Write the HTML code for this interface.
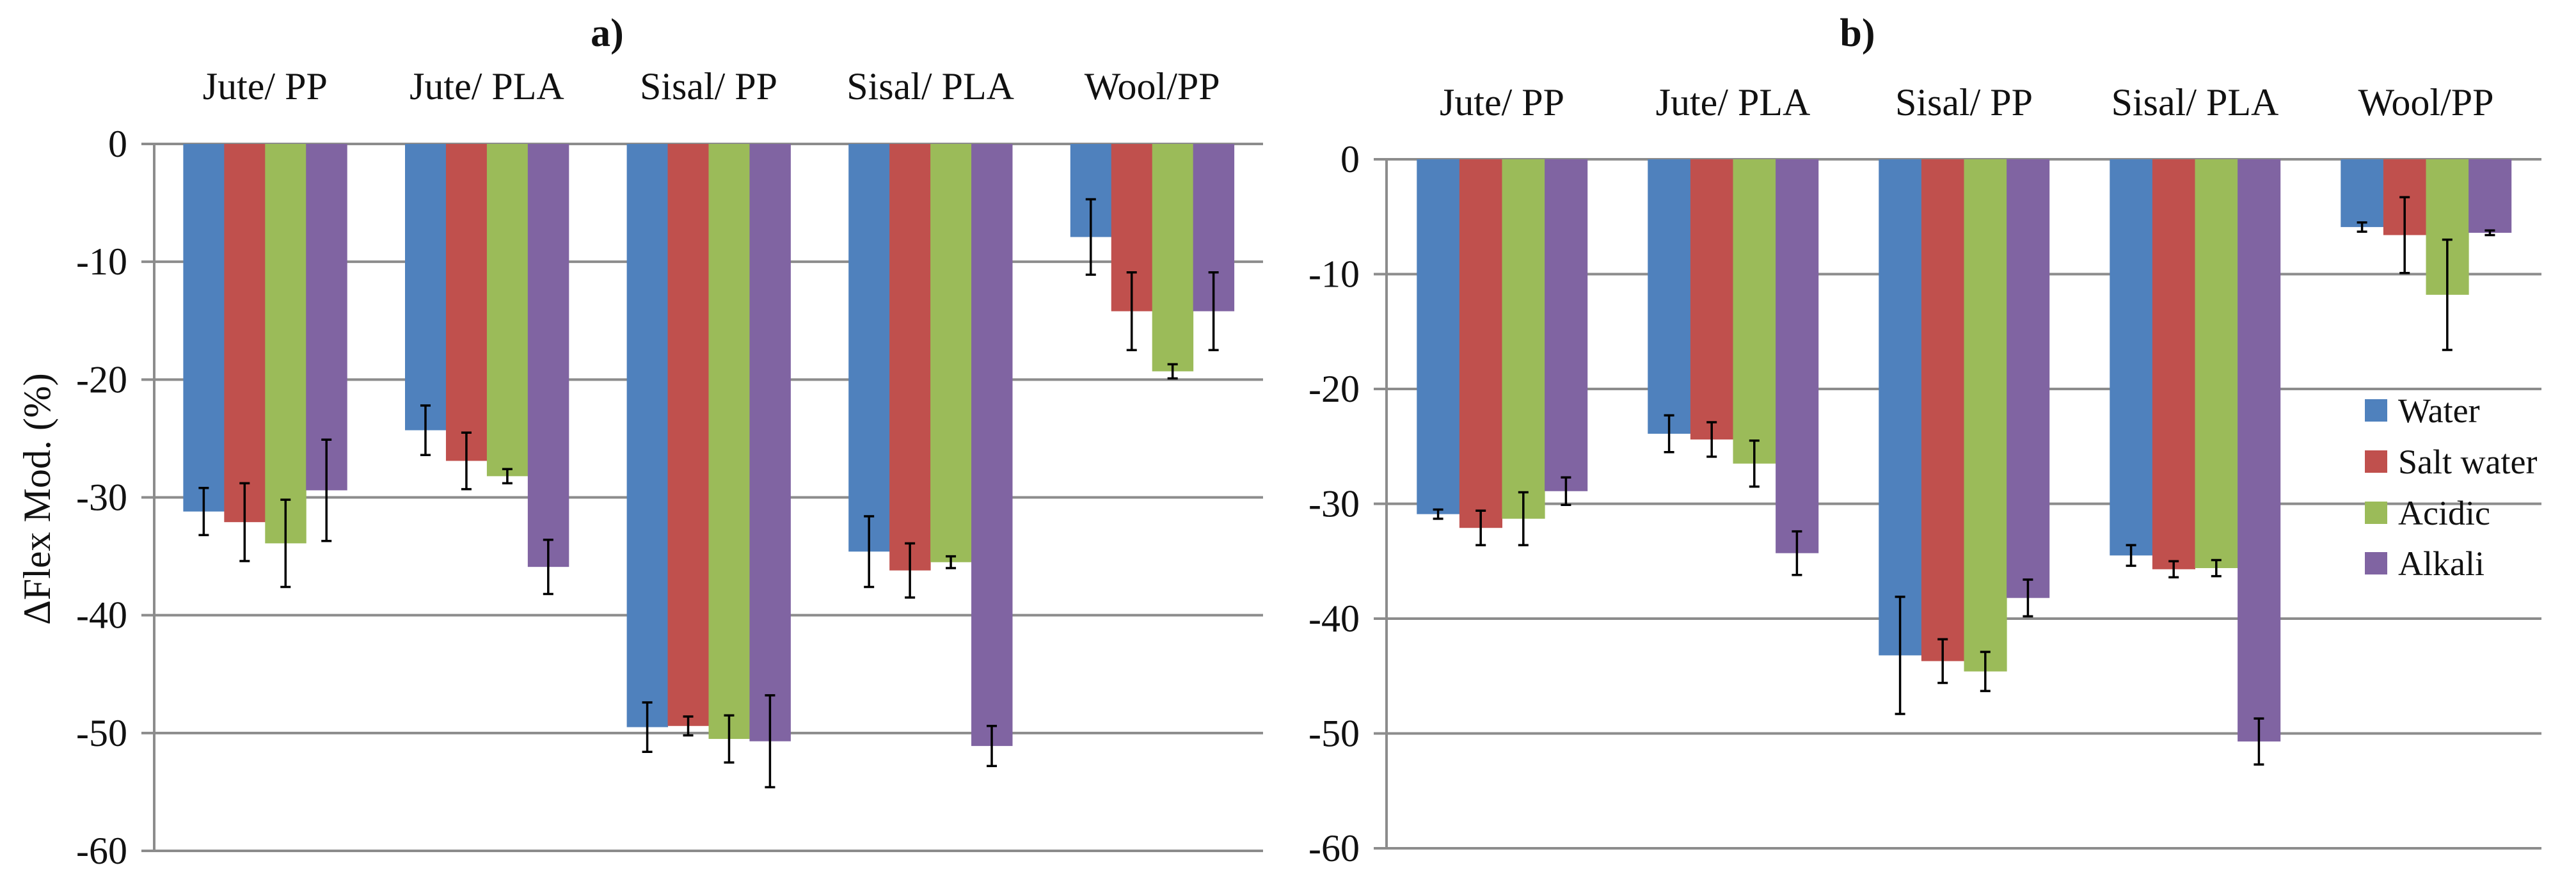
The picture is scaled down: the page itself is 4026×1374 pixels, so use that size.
<!DOCTYPE html>
<html><head><meta charset="utf-8"><style>
html,body{margin:0;padding:0;background:#fff;}
svg{display:block;}
text{font-family:"Liberation Serif","DejaVu Serif",serif;fill:#111;}
</style></head><body>
<svg id="chart" width="4026" height="1374" viewBox="0 0 4026 1374" xmlns="http://www.w3.org/2000/svg"></svg>
<script>
const categories = ["Jute/ PP","Jute/ PLA","Sisal/ PP","Sisal/ PLA","Wool/PP"];
const seriesNames = ["Water","Salt water","Acidic","Alkali"];
const colors = ["#4F81BD","#C0504D","#9BBB59","#8064A2"];
const yTicks = [0,-10,-20,-30,-40,-50,-60];
// chart a values [series][category]
const aWater = [-31.2,-24.3,-49.5,-34.6,-7.9];
const aSalt = [-32.1,-26.9,-49.4,-36.2,-14.2];
const aAcid = [-33.9,-28.2,-50.5,-35.5,-19.3];
const aAlk = [-29.4,-35.9,-50.7,-51.1,-14.2];
const aWaterErr = [2.0,2.1,2.1,3.0,3.2];
const aSaltErr = [3.3,2.4,0.8,2.3,3.3];
const aAcidErr = [3.7,0.6,2.0,0.5,0.6];
const aAlkErr = [4.3,2.3,3.9,1.7,3.3];
// chart b values
const bWater = [-30.9,-23.9,-43.2,-34.5,-5.9];
const bSalt = [-32.1,-24.4,-43.7,-35.7,-6.6];
const bAcid = [-31.3,-26.5,-44.6,-35.6,-11.8];
const bAlk = [-28.9,-34.3,-38.2,-50.7,-6.4];
const bWaterErr = [0.4,1.6,5.1,0.9,0.4];
const bSaltErr = [1.5,1.5,1.9,0.7,3.3];
const bAcidErr = [2.3,2.0,1.7,0.7,4.8];
const bAlkErr = [1.2,1.9,1.6,2.0,0.2];

const NS="http://www.w3.org/2000/svg";
const FONT='"Liberation Serif","DejaVu Serif",serif';
const svg=document.getElementById('chart');
function mk(tag,attrs,parent){const e=document.createElementNS(NS,tag);for(const k in attrs)e.setAttribute(k,attrs[k]);if(tag==='text')e.setAttribute('font-family',FONT);(parent||svg).appendChild(e);return e;}

function drawChart(cfg){
  const g=mk('g',{});
  
  
  const y=v=>cfg.y0+(0-v)/60*(cfg.y60-cfg.y0);
  const groupW=(cfg.x1-cfg.x0)/categories.length;
  const barW=groupW/(4+1.42);
  yTicks.forEach(t=>{
    const l=mk('line',{x1:cfg.x0-20,x2:cfg.x1,y1:y(t),y2:y(t),stroke:'#8c8c8c','stroke-width':4},g);
    
    
    const tx=mk('text',{x:cfg.x0-42,y:y(t)+20,'text-anchor':'end','font-size':60},g);
    
    
    tx.textContent=String(t);
  });
  const ax=mk('line',{x1:cfg.x0,x2:cfg.x0,y1:y(0),y2:y(-60),stroke:'#8c8c8c','stroke-width':4},g);
  
  
  categories.forEach((c,ci)=>{
    const cx=cfg.x0+groupW*(ci+0.5);
    const lt=mk('text',{x:cx,y:cfg.catY,'text-anchor':'middle','font-size':60},g);
    
    
    lt.textContent=c;
    cfg.vals.forEach((arr,si)=>{
      const v=arr[ci];
      const bx=cx-2*barW+si*barW;
      const r=mk('rect',{x:bx,y:y(0),width:barW+0.5,height:y(v)-y(0),fill:colors[si]},g);
      
      
      const e=cfg.errs[si][ci];
      const mx=bx+barW/2;
      const eg=mk('g',{stroke:'#000','stroke-width':3.5},g);
      
      
      mk('line',{x1:mx,x2:mx,y1:y(v+e),y2:y(v-e)},eg);
      mk('line',{x1:mx-8,x2:mx+8,y1:y(v+e),y2:y(v+e)},eg);
      mk('line',{x1:mx-8,x2:mx+8,y1:y(v-e),y2:y(v-e)},eg);
    });
  });
  const tt=mk('text',{x:cfg.titleX,y:72,'text-anchor':'middle','font-size':62,'font-weight':'bold'},g);
  
  
  tt.textContent=cfg.title;
}

drawChart({name:'chart-a',title:'a)',titleX:949,x0:241,x1:1974,y0:225,y60:1330,catY:155,
  vals:[aWater,aSalt,aAcid,aAlk],errs:[aWaterErr,aSaltErr,aAcidErr,aAlkErr]});
drawChart({name:'chart-b',title:'b)',titleX:2903,x0:2167,x1:3972,y0:249,y60:1326,catY:180,
  vals:[bWater,bSalt,bAcid,bAlk],errs:[bWaterErr,bSaltErr,bAcidErr,bAlkErr]});

const yt=mk('text',{x:0,y:0,'text-anchor':'middle','font-size':60,transform:'translate(78,780) rotate(-90)'});


yt.textContent='ΔFlex Mod. (%)';

const legendRowsY=[642,722,802,881];
const lg=mk('g',{});


seriesNames.forEach((n,i)=>{
  const s=mk('rect',{x:3696,y:legendRowsY[i]-18,width:35,height:35,fill:colors[i]},lg);
  
  
  const t=mk('text',{x:3748,y:legendRowsY[i]+18,'font-size':54},lg);
  
  
  t.textContent=n;
});
</script>
</body></html>
